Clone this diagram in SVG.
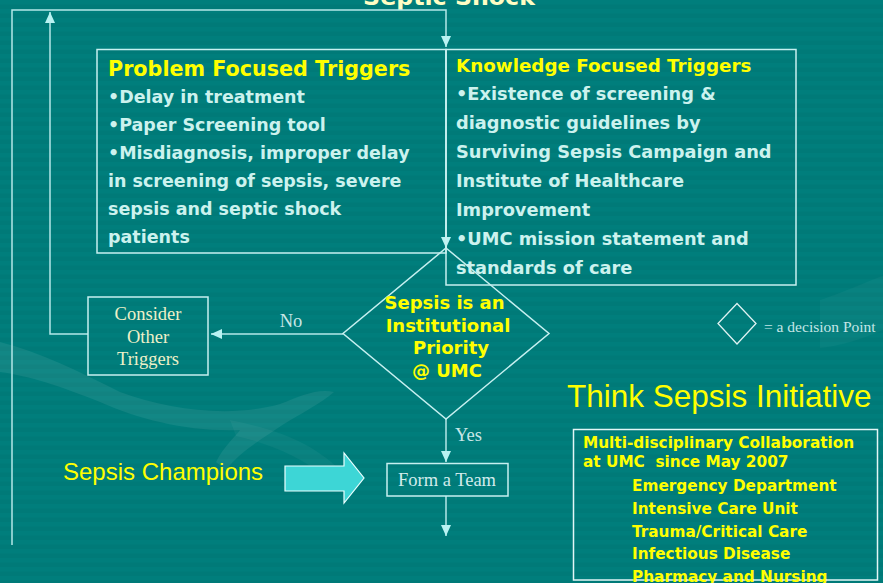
<svg xmlns="http://www.w3.org/2000/svg" width="883" height="583" viewBox="0 0 883 583">
  <defs>
    <pattern id="stripes" width="10" height="9" patternUnits="userSpaceOnUse">
      <rect width="10" height="9" fill="#007a78"/>
      <rect width="10" height="4.5" fill="#007e7c"/>
    </pattern>
    <marker id="arrow" viewBox="0 0 11 10" refX="11" refY="5" markerWidth="11" markerHeight="10" markerUnits="userSpaceOnUse" orient="auto">
      <path d="M0,0 L11,5 L0,10 z" fill="#b8f2f2"/>
    </marker>
    <style>
      .edge { fill: none; stroke: #b4e8e8; stroke-width: 1.5; }
      .box { fill: none; stroke: #c6f0f0; stroke-width: 1.5; }
      .bold { font-family: "DejaVu Sans", Verdana, sans-serif; font-weight: bold; }
      .yellow { fill: #ffff00; }
      .pale { fill: #ccf2ee; }
      .serif { font-family: "Liberation Serif", "Times New Roman", serif; }
      .sans { font-family: "Liberation Sans", Arial, sans-serif; }
    </style>
  </defs>

  <!-- background with faint light swoosh -->
  <rect width="883" height="583" fill="url(#stripes)"/>
  <g id="backdrop" fill="#ffffff">
    <path d="M0,342 C40,352 80,372 120,392 C170,410 230,418 280,404 C300,396 318,388 334,392 C320,404 300,414 284,424 C260,440 240,452 226,470 L216,462 C224,446 236,436 240,430 C190,432 140,420 100,402 C60,386 30,376 0,372 Z" opacity="0.07"/>
    <path d="M230,420 C270,428 310,440 340,470 L330,480 C300,456 270,444 236,436 Z" opacity="0.04"/>
    <path d="M820,300 C850,290 870,280 883,276 L883,330 C860,340 840,346 820,348 Z" opacity="0.03"/>
  </g>

  <g id="title">
    <text class="bold" x="449" y="5" font-size="23.7" text-anchor="middle" fill="#fffdc4">Septic Shock</text>
  </g>

  <g id="connectors">
    <path class="edge" d="M12,545 V10 H446 V47" marker-end="url(#arrow)"/>
    <path class="edge" d="M88,334 H50 V12" marker-end="url(#arrow)"/>
    <path class="edge" d="M446,50 V248" marker-end="url(#arrow)"/>
    <path class="edge" d="M343,334 H211" marker-end="url(#arrow)"/>
    <path class="edge" d="M446,419 V462" marker-end="url(#arrow)"/>
    <path class="edge" d="M446,496 V536" marker-end="url(#arrow)"/>
    <text class="serif" x="291" y="327" font-size="18.5" text-anchor="middle" fill="#c8e6e6">No</text>
    <text class="serif" x="455" y="441" font-size="18.5" fill="#c8e6e6">Yes</text>
  </g>

  <g id="problem-triggers">
    <rect class="box" x="97" y="49.5" width="349" height="203.5"/>
    <text class="bold yellow" x="108" y="76" font-size="20.7">Problem Focused Triggers</text>
    <g class="bold pale" font-size="17.5">
      <text x="108" y="103">•Delay in treatment</text>
      <text x="108" y="131">•Paper Screening tool</text>
      <text x="108" y="159">•Misdiagnosis, improper delay</text>
      <text x="108" y="187">in screening of sepsis, severe</text>
      <text x="108" y="215">sepsis and septic shock</text>
      <text x="108" y="243">patients</text>
    </g>
  </g>

  <g id="knowledge-triggers">
    <rect class="box" x="446" y="49.5" width="350" height="235.5"/>
    <text class="bold yellow" x="456" y="72" font-size="18.3">Knowledge Focused Triggers</text>
    <g class="bold pale" font-size="17.8">
      <text x="456" y="100">•Existence of screening &amp;</text>
      <text x="456" y="129">diagnostic guidelines by</text>
      <text x="456" y="158">Surviving Sepsis Campaign and</text>
      <text x="456" y="187">Institute of Healthcare</text>
      <text x="456" y="216">Improvement</text>
      <text x="456" y="245">•UMC mission statement and</text>
      <text x="456" y="274">standards of care</text>
    </g>
  </g>

  <g id="priority-decision">
    <polygon class="box" points="446,248 549,333.5 446,419 343,333.5"/>
    <g class="bold yellow" font-size="18" text-anchor="middle">
      <text x="444.5" y="309">Sepsis is an</text>
      <text x="448" y="332">Institutional</text>
      <text x="451" y="354">Priority</text>
      <text x="447" y="377">@ UMC</text>
    </g>
  </g>

  <g id="consider-other">
    <rect class="box" x="88" y="297" width="120" height="78"/>
    <g class="serif" font-size="18.5" text-anchor="middle" fill="#eef0c8">
      <text x="148" y="320">Consider</text>
      <text x="148" y="343">Other</text>
      <text x="148" y="365">Triggers</text>
    </g>
  </g>

  <g id="form-team">
    <rect class="box" x="387" y="463.5" width="121" height="32.5"/>
    <text class="serif" x="447" y="486" font-size="18.5" text-anchor="middle" fill="#d2ecec">Form a Team</text>
  </g>

  <g id="champions">
    <text class="sans yellow" x="63" y="480" font-size="24">Sepsis Champions</text>
    <polygon points="285,466 344,466 344,453 364,478 344,503 344,491 285,491" fill="#3dd6d6" stroke="#eaffff" stroke-width="1.2"/>
  </g>

  <g id="legend">
    <polygon points="737,303.5 756,323.5 737,344 718,323.5" fill="none" stroke="#dff2f2" stroke-width="1.3"/>
    <text class="serif" x="764" y="332" font-size="15.5" fill="#c4e6e6">= a decision Point</text>
  </g>

  <g id="initiative">
    <text class="sans yellow" x="567" y="407" font-size="31.5">Think Sepsis Initiative</text>
  </g>

  <g id="collaboration">
    <rect x="573.5" y="429.5" width="304" height="150.5" fill="none" stroke="#e2f6f6" stroke-width="1.5"/>
    <g class="bold yellow" font-size="15.3">
      <text x="583" y="448">Multi-disciplinary Collaboration</text>
      <text x="583" y="467" xml:space="preserve">at UMC  since May 2007</text>
      <text x="632" y="491">Emergency Department</text>
      <text x="632" y="514">Intensive Care Unit</text>
      <text x="632" y="537">Trauma/Critical Care</text>
      <text x="632" y="559">Infectious Disease</text>
      <text x="632" y="582">Pharmacy and Nursing</text>
    </g>
  </g>
</svg>
